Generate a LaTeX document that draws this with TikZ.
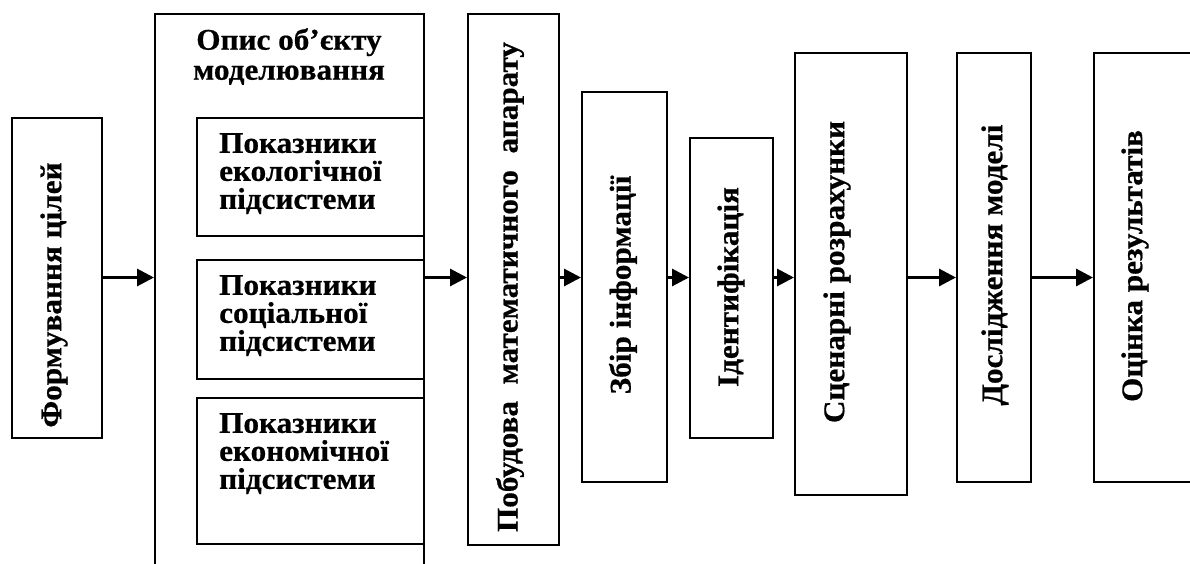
\documentclass[tikz,border=0pt]{standalone}
\usepackage{fontspec}
\setmainfont{Liberation Serif}[FakeStretch=1.04,BoldFeatures={FakeBold=0.6}]
\usetikzlibrary{arrows.meta}
\begin{document}
\begin{tikzpicture}[x=1pt,y=-1pt,
  box/.style={draw, line width=2pt, inner sep=0pt, anchor=north west},
  txt/.style={inner sep=0pt, font=\fontsize{30}{28}\selectfont\bfseries},
  vtext/.style={txt, rotate=90},
  ltext/.style={txt, align=left, anchor=north west},
  flow/.style={line width=3pt, -{Triangle[length=17pt,width=17pt]}}]
\useasboundingbox (0,0) rectangle (1190,563);
\clip (0,0) rectangle (1190,563);
\fill[white] (0,0) rectangle (1190,563);
\coordinate (lvl) at (0,277.5);
% boxes
\node[box, minimum width=90pt, minimum height=320pt] (b1) at (11,117) {};
\node[box, minimum width=269pt, minimum height=600pt] (opis) at (154,13) {};
\node[box, minimum width=227pt, minimum height=118pt] (ek) at (196,117) {};
\node[box, minimum width=227pt, minimum height=119pt] (so) at (196,259) {};
\node[box, minimum width=227pt, minimum height=146pt] (ec) at (196,397) {};
\node[box, minimum width=91pt, minimum height=531pt] (pob) at (467,13) {};
\node[box, minimum width=85pt, minimum height=390pt] (zb) at (581,91) {};
\node[box, minimum width=83pt, minimum height=300pt] (id) at (689,137) {};
\node[box, minimum width=112pt, minimum height=442pt] (sc) at (794,52) {};
\node[box, minimum width=74pt, minimum height=429pt] (ds) at (956,52) {};
\node[box, minimum width=110pt, minimum height=429pt] (oc) at (1093,52) {};
% texts
\node[vtext] (t1) at (54,295) {Формування цілей};
\node[txt, align=center, anchor=north, font=\fontsize{30}{30}\selectfont\bfseries] (title) at (289,28) {Опис об’єкту\\моделювання};
\node[ltext] (tek) at (219,133) {Показники\\екологічної\\підсистеми};
\node[ltext] (tso) at (219,275) {Показники\\соціальної\\підсистеми};
\node[ltext] (tec) at (219,413) {Показники\\економічної\\підсистеми};
\node[vtext] (tpob) at (510,287) {\makebox[490pt][s]{Побудова математичного апарату}};
\node[vtext] (tzb) at (623,285) {Збір інформації};
\node[vtext] (tid) at (731,287) {Ідентифікація};
\node[vtext] (tsc) at (837,272) {Сценарні розрахунки};
\node[vtext] (tds) at (995,265) {Дослідження моделі};
\node[vtext] (toc) at (1135,266) {Оцінка результатів};
% arrows
\draw[flow] (b1.east |- lvl) -- (opis.west |- lvl);
\draw[flow] (opis.east |- lvl) -- (pob.west |- lvl);
\draw[flow] (pob.east |- lvl) -- (zb.west |- lvl);
\draw[flow] (zb.east |- lvl) -- (id.west |- lvl);
\draw[flow] (id.east |- lvl) -- (sc.west |- lvl);
\draw[flow] (sc.east |- lvl) -- (ds.west |- lvl);
\draw[flow] (ds.east |- lvl) -- (oc.west |- lvl);
\end{tikzpicture}
\end{document}
